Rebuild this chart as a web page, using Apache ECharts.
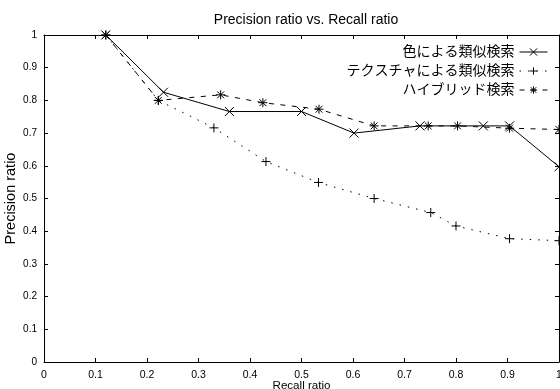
<!DOCTYPE html>
<html>
<head>
<meta charset="utf-8">
<script src="https://cdn.jsdelivr.net/npm/echarts@6/dist/echarts.min.js"></script>
<style>
html,body{margin:0;padding:0;background:#fff;}
#chart{width:560px;height:389px;}
</style>
</head>
<body>
<div id="chart"></div>
<script>
var titleText = 'Precision ratio vs. Recall ratio';
var xName = 'Recall ratio';
var yName = 'Precision ratio';
var seriesNames = ['色による類似検索', 'テクスチャによる類似検索', 'ハイブリッド検索'];

var colorRecall    = [0.12, 0.232, 0.36, 0.50, 0.602, 0.73, 0.853, 0.904, 1.0];
var colorPrecision = [1.0, 0.825, 0.766, 0.766, 0.70, 0.722, 0.722, 0.722, 0.597];

var textureRecall    = [0.12, 0.222, 0.330, 0.431, 0.533, 0.641, 0.751, 0.80, 0.904, 1.0];
var texturePrecision = [1.0, 0.80, 0.716, 0.613, 0.549, 0.50, 0.457, 0.416, 0.377, 0.371];

var hybridRecall    = [0.12, 0.222, 0.343, 0.425, 0.534, 0.641, 0.746, 0.803, 0.904, 1.0];
var hybridPrecision = [1.0, 0.80, 0.817, 0.793, 0.773, 0.722, 0.722, 0.722, 0.715, 0.711];

function pairs(xs, ys){ return xs.map(function(x,i){ return [x, ys[i]]; }); }

var SYM_X = 'path://M0,0L10,10M10,0L0,10';
var SYM_PLUS = 'path://M0,5L10,5M5,0L5,10';
var SYM_STAR = 'path://M0,5L10,5M5,0L5,10M1.2,1.2L8.8,8.8M8.8,1.2L1.2,8.8';

var font = '"Liberation Sans", Arial, "Noto Sans CJK JP", sans-serif';

function mkSeries(name, data, sym, dash){
  return {
    name: name, type: 'line', data: data,
    symbol: sym, symbolSize: 9, showAllSymbol: true,
    clip: false,
    lineStyle: {color: '#000', width: 1, type: dash},
    itemStyle: {color: '#000', borderColor: '#000', borderWidth: 1},
    emphasis: {disabled: true}
  };
}

var chart = echarts.init(document.getElementById('chart'), null, {renderer: 'canvas'});
chart.setOption({
  animation: false,
  backgroundColor: '#fff',
  title: {
    text: titleText, left: 301, textAlign: 'center', top: 8,
    textStyle: {fontFamily: font, fontSize: 14, fontWeight: 'normal', color: '#000'}
  },
  legend: {
    orient: 'vertical', right: 7, top: 40, align: 'right',
    itemWidth: 28, itemHeight: 9, itemGap: 5,
    itemStyle: {color: '#000', borderColor: '#000', borderWidth: 1},
    lineStyle: {width: 1, color: '#000'},
    textStyle: {fontFamily: font, fontSize: 14, color: '#000', lineHeight: 14},
    data: seriesNames
  },
  grid: {left: 44, right: 1, top: 35, bottom: 27, containLabel: false, outerBoundsMode: 'none'},
  xAxis: [{
    type: 'value', min: 0, max: 1, interval: 0.1, position: 'bottom',
    name: xName, nameLocation: 'middle', nameGap: 18, nameMoveOverlap: false,
    nameTextStyle: {fontFamily: font, fontSize: 11.6, color: '#000'},
    axisLine: {show: true, onZero: false, lineStyle: {color: '#000', width: 1}},
    axisTick: {show: true, inside: true, length: 4, lineStyle: {color: '#000'}},
    axisLabel: {fontFamily: font, fontSize: 10.5, color: '#000', margin: 8},
    splitLine: {show: false}
  }, {
    type: 'value', min: 0, max: 1, interval: 0.1, position: 'top',
    axisLine: {show: true, onZero: false, lineStyle: {color: '#000', width: 1}},
    axisTick: {show: true, inside: true, length: 4, lineStyle: {color: '#000'}},
    axisLabel: {show: false},
    splitLine: {show: false}
  }],
  yAxis: [{
    type: 'value', min: 0, max: 1, interval: 0.1, position: 'left',
    name: yName, nameLocation: 'middle', nameGap: 26, nameRotate: 90, nameMoveOverlap: false,
    nameTextStyle: {fontFamily: font, fontSize: 14.5, color: '#000'},
    axisLine: {show: true, onZero: false, lineStyle: {color: '#000', width: 1}},
    axisTick: {show: true, inside: true, length: 4, lineStyle: {color: '#000'}},
    axisLabel: {fontFamily: font, fontSize: 10, color: '#000', margin: 7},
    splitLine: {show: false}
  }, {
    type: 'value', min: 0, max: 1, interval: 0.1, position: 'right',
    axisLine: {show: true, onZero: false, lineStyle: {color: '#000', width: 1}},
    axisTick: {show: true, inside: true, length: 4, lineStyle: {color: '#000'}},
    axisLabel: {show: false},
    splitLine: {show: false}
  }],
  series: [
    mkSeries(seriesNames[0], pairs(colorRecall, colorPrecision), SYM_X, 'solid'),
    mkSeries(seriesNames[1], pairs(textureRecall, texturePrecision), SYM_PLUS, [1.5, 7]),
    mkSeries(seriesNames[2], pairs(hybridRecall, hybridPrecision), SYM_STAR, [5, 6.5])
  ]
});
</script>
</body>
</html>
